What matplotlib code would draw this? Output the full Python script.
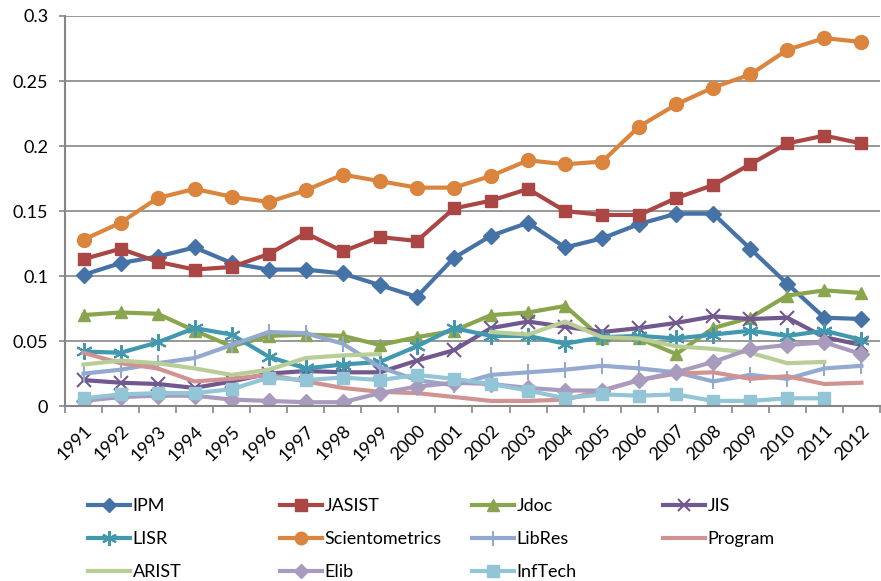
#! /usr/bin/env python3

# Journal indicator per year, 1991-2012, Excel-style line chart

import numpy as np
import matplotlib
matplotlib.use('Agg')
import matplotlib.pyplot as plt

years = [str(y) for y in range(1991, 2013)]

ipm = [0.101, 0.110, 0.115, 0.122, 0.110, 0.105, 0.105, 0.102, 0.093, 0.084, 0.114,
       0.131, 0.141, 0.122, 0.129, 0.140, 0.148, 0.148, 0.121, 0.094, 0.068, 0.067]
jasist = [0.113, 0.121, 0.111, 0.105, 0.107, 0.117, 0.133, 0.119, 0.130, 0.127, 0.152,
          0.158, 0.167, 0.150, 0.147, 0.147, 0.160, 0.170, 0.186, 0.202, 0.208, 0.202]
jdoc = [0.070, 0.072, 0.071, 0.058, 0.046, 0.054, 0.055, 0.054, 0.047, 0.053, 0.058,
        0.070, 0.072, 0.077, 0.052, 0.052, 0.040, 0.060, 0.068, 0.085, 0.089, 0.087]
jis = [0.020, 0.018, 0.017, 0.014, 0.019, 0.025, 0.027, 0.026, 0.026, 0.035, 0.043,
       0.060, 0.065, 0.061, 0.057, 0.060, 0.064, 0.069, 0.067, 0.068, 0.053, 0.047]
lisr = [0.042, 0.041, 0.049, 0.060, 0.055, 0.038, 0.029, 0.032, 0.034, 0.046, 0.060,
        0.054, 0.054, 0.048, 0.053, 0.054, 0.052, 0.055, 0.058, 0.054, 0.058, 0.051]
sciento = [0.128, 0.141, 0.160, 0.167, 0.161, 0.157, 0.166, 0.178, 0.173, 0.168, 0.168,
           0.177, 0.189, 0.186, 0.188, 0.215, 0.232, 0.245, 0.255, 0.274, 0.283, 0.280]
libres = [0.025, 0.028, 0.033, 0.037, 0.047, 0.057, 0.056, 0.048, 0.030, 0.020, 0.016,
          0.024, 0.026, 0.028, 0.031, 0.029, 0.026, 0.019, 0.024, 0.021, 0.029, 0.031]
program = [0.041, 0.033, 0.029, 0.019, 0.021, 0.024, 0.019, 0.014, 0.011, 0.010, 0.007,
           0.004, 0.004, 0.005, 0.012, 0.020, 0.025, 0.026, 0.021, 0.023, 0.017, 0.018]
arist = [0.032, 0.035, 0.033, 0.029, 0.024, 0.028, 0.037, 0.039, 0.040, None, None,
         0.057, 0.055, 0.065, 0.053, 0.052, 0.046, 0.044, 0.041, 0.033, 0.034, None]
elib = [0.004, 0.007, 0.008, 0.008, 0.005, 0.004, 0.003, 0.003, 0.010, 0.015, 0.018,
        0.017, 0.014, 0.012, 0.012, 0.020, 0.026, 0.034, 0.044, 0.047, 0.049, 0.040]
inftech = [0.006, 0.009, 0.010, 0.010, 0.013, 0.022, 0.020, 0.022, 0.020, 0.024, 0.021,
           0.017, 0.012, 0.006, 0.009, 0.008, 0.009, 0.004, 0.004, 0.006, 0.006, None]

names = ['IPM', 'JASIST', 'Jdoc', 'JIS', 'LISR', 'Scientometrics', 'LibRes',
         'Program', 'ARIST', 'Elib', 'InfTech']
series = [ipm, jasist, jdoc, jis, lisr, sciento, libres, program, arist, elib, inftech]
colors = ['#4572A7', '#AA4643', '#89A54E', '#71588F', '#4198AF', '#DB843D',
          '#93A9CF', '#D19392', '#B9CD96', '#A99BBD', '#92C5D6']
asterisk = (6, 2, 0)
markers = ['D', 's', '^', 'x', asterisk, 'o', '|', None, None, 'D', 's']
msizes = [8, 9, 9, 10, 12, 10, 12, 0, 0, 8, 9]

plt.rcParams['font.family'] = ['Lato', 'DejaVu Sans']

def main():
    fig = plt.figure(figsize=(8.81, 5.81), dpi=100)
    ax = fig.add_axes([0.0738, 0.301, 0.925, 0.6715])

    x = np.arange(len(years))
    handles = []
    for vals, name, c, m, ms in zip(series, names, colors, markers, msizes):
        y = np.array([np.nan if v is None else v for v in vals], dtype=float)
        mew = 1.5 if m in ('x', '|', asterisk) else 1
        h, = ax.plot(x, y, color=c, lw=3, marker=m, ms=ms, mew=mew,
                     mec=c, mfc=c, label=name, solid_joinstyle='round')
        handles.append(h)

    ax.set_xlim(-0.5, len(years) - 0.5)
    ax.set_ylim(0, 0.3)
    ax.set_yticks([0, 0.05, 0.1, 0.15, 0.2, 0.25, 0.3])
    ax.set_yticklabels(['0', '0.05', '0.1', '0.15', '0.2', '0.25', '0.3'])
    ax.set_xticks(x)
    ax.set_xticklabels(years, rotation=45, ha='right', va='top', rotation_mode='anchor')
    ax.set_xticks(np.arange(len(years) + 1) - 0.5, minor=True)
    ax.tick_params(axis='x', which='major', length=0, pad=12, labelsize=13)
    ax.tick_params(axis='x', which='minor', length=5, width=1.2, color='#868686')
    ax.tick_params(axis='y', length=4, width=1.2, color='#868686', pad=8, labelsize=13)

    ax.grid(axis='y', color='#868686', lw=1.2)
    ax.set_axisbelow(True)
    for s in ['top', 'right']:
        ax.spines[s].set_visible(False)
    for s in ['left', 'bottom']:
        ax.spines[s].set_color('#868686')
        ax.spines[s].set_linewidth(1.5)

    # one legend per column, like the Excel layout
    col_x = [88, 280, 472, 663]
    for i, cx in enumerate(col_x):
        hs = handles[i::4]
        fig.legend(handles=hs, labels=[h.get_label() for h in hs],
                   loc='upper left', bbox_to_anchor=(cx / 881, 1 - 498 / 581),
                   frameon=False, fontsize=13, handlelength=2.35, handletextpad=0.12,
                   labelspacing=0.95, borderaxespad=0, borderpad=0, markerscale=0.9)

    plt.savefig('out.png', dpi=100)
    plt.close()

if __name__ == '__main__':
    main()
